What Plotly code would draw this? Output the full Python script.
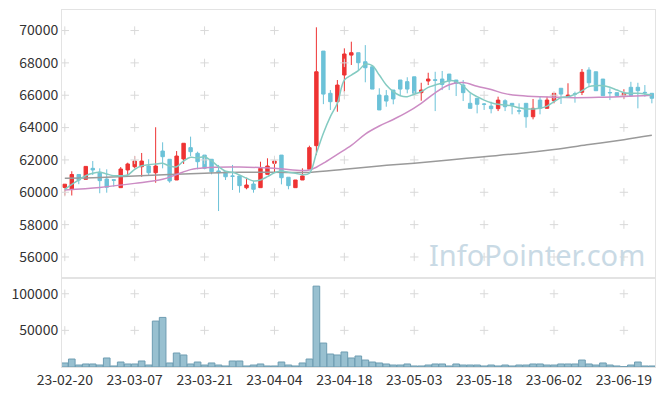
import plotly.graph_objects as go
from plotly.subplots import make_subplots

dates = ["23-02-20","23-02-21","23-02-22","23-02-23","23-02-24","23-02-27","23-02-28",
         "23-03-02","23-03-03","23-03-06","23-03-07","23-03-08","23-03-09","23-03-10",
         "23-03-13","23-03-14","23-03-15","23-03-16","23-03-17","23-03-20","23-03-21",
         "23-03-22","23-03-23","23-03-24","23-03-27","23-03-28","23-03-29","23-03-30",
         "23-03-31","23-04-03","23-04-04","23-04-05","23-04-06","23-04-07","23-04-10",
         "23-04-11","23-04-12","23-04-13","23-04-14","23-04-17","23-04-18","23-04-19",
         "23-04-20","23-04-21","23-04-24","23-04-25","23-04-26","23-04-27","23-04-28",
         "23-05-02","23-05-03","23-05-04","23-05-08","23-05-09","23-05-10","23-05-11",
         "23-05-12","23-05-15","23-05-16","23-05-17","23-05-18","23-05-19","23-05-22",
         "23-05-23","23-05-24","23-05-25","23-05-26","23-05-30","23-05-31","23-06-01",
         "23-06-02","23-06-05","23-06-07","23-06-08","23-06-09","23-06-12","23-06-13",
         "23-06-14","23-06-15","23-06-16","23-06-19","23-06-20","23-06-21","23-06-22",
         "23-06-23"]

open_ = [60300,60200,61100,60800,61480,61240,60820,60780,60285,61380,
         61580,61580,61625,61210,62550,62040,60760,62060,62760,62410,
         62300,62040,61320,61270,61010,61010,60280,60510,60285,61110,
         61790,62300,60930,60285,60760,61420,62880,68730,66120,65600,
         67250,68480,68630,68070,67760,66010,65970,66320,66940,66840,
         67140,66160,66880,66960,67000,67310,66940,66630,65500,65810,
         65460,65330,65170,65660,65500,65040,65500,64670,65700,65190,
         65660,66430,65910,66090,66180,67560,67450,67000,66170,66160,
         65970,66490,66490,66180,66120]
high = [60500,61300,61100,61600,61930,61480,61420,60800,61560,61830,
        62240,62430,62040,64020,63090,62040,62550,63030,63440,62510,
        62300,62040,61690,61270,61690,61010,60900,60700,61890,62100,
        61930,62300,60930,60760,61480,62880,70200,68730,66320,66940,
        68900,69310,68630,69100,67760,66430,66320,66320,66940,67110,
        67140,66770,67390,67450,67500,67310,66940,66940,66120,65810,
        65520,65600,65910,65750,65500,65500,65500,65770,65910,65910,
        66120,66430,66740,66220,67620,67730,67450,67000,66430,66160,
        66370,66830,66770,66630,66120]
low = [59800,59800,60500,60800,61070,59940,59975,60350,60285,61000,
       61480,60960,61070,60590,61480,60590,60760,61750,62240,61420,
       61420,61110,58840,60760,60140,59975,60185,59975,60285,61110,
       61210,60490,60185,60285,60760,61420,62300,65450,65090,64980,
       66180,67870,67510,66800,66380,65090,65290,65440,65970,66120,
       66120,65660,66630,65020,66320,66320,65950,65640,65190,64880,
       65090,64880,65020,65020,64820,64820,63990,64510,64820,65190,
       65500,65460,65910,65540,66010,66530,66280,65970,65700,65910,
       65770,65910,65190,65910,65500]
close = [60500,61100,60760,61600,61380,60720,60310,60740,61440,61750,
         61930,61930,61210,61625,62200,60700,62240,63030,62510,61890,
         61480,61270,61210,60960,60990,60410,60450,60185,61480,61625,
         61930,60900,60410,60760,61010,62760,67450,66070,65600,66630,
         68550,68630,68010,67700,66380,65090,65640,65770,66380,66380,
         66120,66320,67000,66920,66670,66880,66740,66160,65190,65440,
         65440,65170,65700,65290,65380,65020,64670,65190,65190,65700,
         66120,66070,66010,66070,67420,66770,66280,65970,66150,65970,
         66120,65970,66280,66150,65810]

volume = [5500,10900,2700,4100,4100,2700,12300,1400,6800,4100,
          4100,8200,2700,62700,67700,5500,19100,16400,4100,6800,
          2700,5500,2700,1400,8200,8200,1400,2700,4100,1400,
          1400,6800,2700,1400,5500,10900,110400,32700,17700,16400,
          20500,12300,15000,9500,6800,5500,4100,2700,2700,4100,
          1400,1400,2700,4100,4100,1400,4100,2700,2700,2700,
          1400,2700,1400,2700,1400,2700,2700,4100,4100,2700,
          2700,4100,4100,4100,9500,4100,2700,5500,2700,1400,
          500,2700,6800,1400,1400]

ma5 = [60185,60494,60760,61025,61175,61235,61130,61025,61025,61070,
       61420,61640,61705,61750,61790,61625,61580,61935,62160,62120,
       62200,61935,61580,61300,61235,61070,60865,60700,60760,60965,
       61210,61315,61235,61175,61090,61175,62410,63650,64680,65500,
       66940,67250,67520,67910,67830,67250,66630,66220,65970,65910,
       66060,66220,66490,66630,66760,66900,66840,66570,66160,65910,
       65700,65540,65440,65400,65330,65230,65150,65150,65190,65330,
       65600,65850,65910,66060,66280,66530,66590,66590,66490,66320,
       66160,66120,66120,66080,66010]

ma20_idx = [0,5,10,14,16,18,20,25,30,34,35,36,37,39,41,43,45,47,49,51,53,55,57,59,61,63,65,68,73,77,80,84]
ma20_val = [60140,60300,60550,60800,61100,61400,61520,61560,61480,61340,61380,61550,61800,62350,
            62900,63600,64100,64500,64950,65500,66150,66650,66780,66550,66350,66100,65980,65900,
            65850,65880,65920,66000]

ma60_idx = [0,5,10,15,20,25,30,35,40,45,50,55,60,65,70,75,80,84]
ma60_val = [60870,60920,61000,61100,61180,61240,61240,61230,61420,61630,61800,62000,62200,62400,
            62650,62950,63250,63520]

price_ticks = [56000, 58000, 60000, 62000, 64000, 66000, 68000, 70000]
vol_ticks = [50000, 100000]
tick_idx = list(range(0, 85, 10))

RED = "#ee3333"
BLUE = "#6cc2d8"
FRAME = "#e3e3e3"
PLUS = "#d9d9d9"

fig = make_subplots(rows=2, cols=1, shared_xaxes=True, vertical_spacing=0,
                    row_heights=[0.7507, 0.2493])

fig.add_trace(go.Candlestick(
    x=dates, open=open_, high=high, low=low, close=close,
    increasing=dict(line=dict(color=RED, width=1), fillcolor=RED),
    decreasing=dict(line=dict(color=BLUE, width=1), fillcolor=BLUE),
    whiskerwidth=0), row=1, col=1)

fig.add_trace(go.Bar(x=dates, y=volume,
                     marker=dict(color="#98c0d0", line=dict(color="#6e9db2", width=1))),
              row=2, col=1)

# grid "+" marks
gx, gy = [], []
for t in price_ticks:
    for k in tick_idx:
        gx.append(dates[k]); gy.append(t)
fig.add_trace(go.Scatter(x=gx, y=gy, mode="markers", hoverinfo="skip",
                         marker=dict(symbol="cross-thin", size=6,
                                     line=dict(color=PLUS, width=1))), row=1, col=1)
vx, vy = [], []
for t in vol_ticks:
    for k in tick_idx:
        vx.append(dates[k]); vy.append(t)
fig.add_trace(go.Scatter(x=vx, y=vy, mode="markers", hoverinfo="skip",
                         marker=dict(symbol="cross-thin", size=6,
                                     line=dict(color=PLUS, width=1))), row=2, col=1)

fig.add_trace(go.Scatter(x=[dates[i] for i in ma60_idx], y=ma60_val, mode="lines",
                         line=dict(color="#9a9a9a", width=1.5, shape="spline")), row=1, col=1)
fig.add_trace(go.Scatter(x=[dates[i] for i in ma20_idx], y=ma20_val, mode="lines",
                         line=dict(color="#cc8cc4", width=1.5, shape="spline")), row=1, col=1)
fig.add_trace(go.Scatter(x=dates, y=ma5, mode="lines",
                         line=dict(color="#84cbc2", width=1.5, shape="spline")), row=1, col=1)

axis_font = dict(family="Noto Sans CJK KR, Noto Sans, sans-serif", size=14, color="#333333")

fig.update_xaxes(type="category", categoryorder="array", categoryarray=dates,
                 range=[-0.4, 84.45], showgrid=False, zeroline=False, automargin=False,
                 showline=True, linecolor=FRAME, mirror=True, ticks="",
                 rangeslider=dict(visible=False),
                 tickmode="array", tickvals=[dates[k] for k in tick_idx],
                 ticktext=[dates[k] for k in tick_idx], tickangle=0, tickfont=axis_font)
fig.update_xaxes(showticklabels=False, row=1, col=1)
fig.update_xaxes(showticklabels=True, row=2, col=1)

fig.update_yaxes(range=[54700, 71270], tickvals=price_ticks, tickformat="d", showgrid=False,
                 zeroline=False, showline=True, linecolor=FRAME, mirror=True, automargin=False,
                 ticks="", tickfont=axis_font, row=1, col=1)
fig.update_yaxes(range=[0, 121500], tickvals=vol_ticks, tickformat="d", showgrid=False,
                 zeroline=False, showline=True, linecolor=FRAME, mirror=True, automargin=False,
                 ticks="", tickfont=axis_font, row=2, col=1)

fig.add_annotation(text="InfoPointer.com", xref="paper", yref="paper",
                   x=0.987, y=0.315, xanchor="right", yanchor="middle", showarrow=False,
                   font=dict(family="Noto Sans, Open Sans, sans-serif", size=29,
                             color="#c9dae5"))

fig.update_layout(width=665, height=396, margin=dict(l=62, r=10, t=10, b=29),
                  paper_bgcolor="white", plot_bgcolor="white", showlegend=False,
                  bargap=0.05)

fig.write_html("out.html", config={"displayModeBar": False},
               post_script="document.body.style.margin='0';document.body.style.overflow='hidden';")
